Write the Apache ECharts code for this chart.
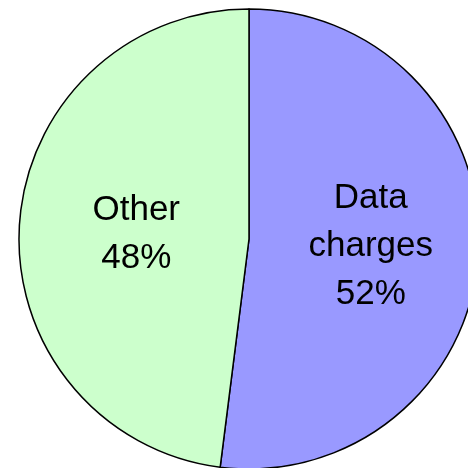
<!DOCTYPE html>
<html>
<head>
<meta charset="utf-8">
<script src="https://cdn.jsdelivr.net/npm/echarts@6/dist/echarts.min.js"></script>
<style>
  html, body { margin: 0; padding: 0; background: #fff; }
  #chart { width: 468px; height: 468px; }
</style>
</head>
<body>
<div id="chart"></div>
<script>
  // slice names and shares (percent)
  const categories = ['Data\ncharges', 'Other']
  const shares = [52, 48]
  const colors = ['#9999FF', '#CCFFCC']

  const myChart = echarts.init(document.getElementById('chart'))

  const option = {
    animation: false,
    series: [
      {
        type: 'pie',
        center: [249, 239],
        radius: 230,
        startAngle: 90,
        clockwise: true,
        itemStyle: {
          borderColor: '#000',
          borderWidth: 1.5,
        },
        label: {
          show: true,
          position: 'inside',
          formatter: '{b}\n{d}%',
          fontFamily: 'Liberation Sans, Arial, sans-serif',
          fontSize: 35,
          lineHeight: 48,
          color: '#000',
        },
        labelLayout: (params) => {
          return params.dataIndex === 1 ? { dy: 3, dx: 5 } : { dx: 4 }
        },
        emphasis: { disabled: true },
        data: categories.map((name, i) => ({
          name: name,
          value: shares[i],
          itemStyle: { color: colors[i] },
        })),
      },
    ],
  }

  myChart.setOption(option)
</script>
</body>
</html>
